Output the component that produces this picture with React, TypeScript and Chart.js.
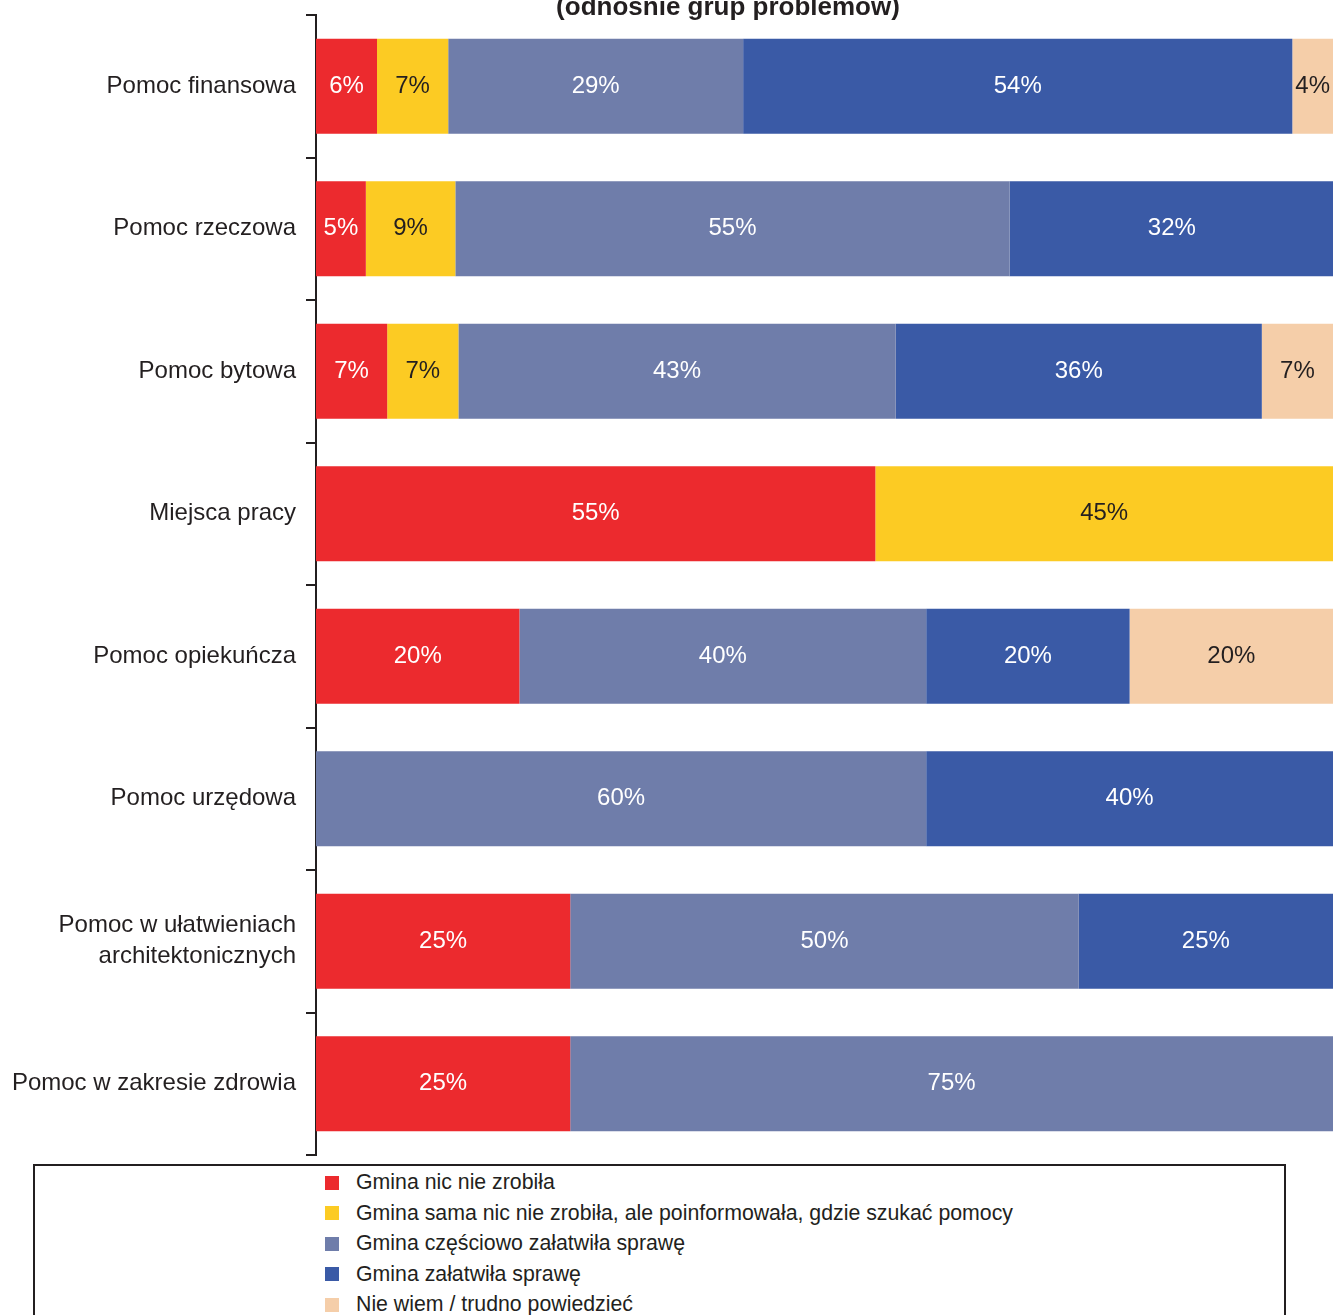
import React, { useEffect, useRef } from "react";
import { Chart, registerables } from "chart.js";

Chart.register(...registerables);

const titleText = "(odnośnie grup problemów)";

const categories: (string | string[])[] = [
  "Pomoc finansowa",
  "Pomoc rzeczowa",
  "Pomoc bytowa",
  "Miejsca pracy",
  "Pomoc opiekuńcza",
  "Pomoc urzędowa",
  ["Pomoc w ułatwieniach", "architektonicznych"],
  "Pomoc w zakresie zdrowia",
];

const seriesNames = [
  "Gmina nic nie zrobiła",
  "Gmina sama nic nie zrobiła, ale poinformowała, gdzie szukać pomocy",
  "Gmina częściowo załatwiła sprawę",
  "Gmina załatwiła sprawę",
  "Nie wiem / trudno powiedzieć",
];

const nicNieZrobila = [6, 4.9, 7, 55, 20, 0, 25, 25];
const poinformowala = [7, 8.8, 7, 45, 0, 0, 0, 0];
const czesciowo = [29, 54.5, 43, 0, 40, 60, 50, 75];
const zalatwila = [54, 31.9, 36, 0, 20, 40, 25, 0];
const nieWiem = [4, 0, 7, 0, 20, 0, 0, 0];

const seriesValues = [nicNieZrobila, poinformowala, czesciowo, zalatwila, nieWiem];
const seriesColors = ["#EC2A2E", "#FCCB23", "#6F7DAA", "#3A5AA6", "#F5CEA9"];
const labelColors = ["#ffffff", "#231f20", "#ffffff", "#ffffff", "#231f20"];

const FONT = "'Liberation Sans', Arial, Helvetica, sans-serif";
const INK = "#231f20";

const valueLabelsPlugin = {
  id: "valueLabels",
  afterDatasetsDraw(chart: any) {
    const ctx = chart.ctx;
    ctx.save();
    ctx.font = `24px ${FONT}`;
    ctx.textAlign = "center";
    ctx.textBaseline = "middle";
    chart.data.datasets.forEach((ds: any, di: number) => {
      const meta = chart.getDatasetMeta(di);
      meta.data.forEach((el: any, i: number) => {
        const v = ds.data[i];
        if (!v) return;
        const cx = (el.x + el.base) / 2;
        ctx.fillStyle = labelColors[di];
        ctx.fillText(`${Math.round(v)}%`, cx, el.y);
      });
    });
    ctx.restore();
  },
};

const titlePlugin = {
  id: "cutTitle",
  afterDraw(chart: any) {
    const ctx = chart.ctx;
    ctx.save();
    ctx.font = `bold 26px ${FONT}`;
    ctx.fillStyle = INK;
    ctx.textAlign = "center";
    ctx.textBaseline = "alphabetic";
    ctx.fillText(titleText, 728, 14.5);
    ctx.restore();
  },
};

export default function App() {
  const canvasRef = useRef<HTMLCanvasElement | null>(null);

  useEffect(() => {
    if (!canvasRef.current) return;
    const chart = new Chart(canvasRef.current, {
      type: "bar",
      data: {
        labels: categories,
        datasets: seriesNames.map((name, i) => ({
          label: name,
          data: seriesValues[i],
          backgroundColor: seriesColors[i],
          borderWidth: 0,
          barPercentage: 0.667,
          categoryPercentage: 1,
        })),
      },
      options: {
        indexAxis: "y",
        responsive: false,
        animation: false,
        devicePixelRatio: 1,
        layout: { padding: { top: 15, bottom: 5, left: 0, right: 1 } },
        plugins: {
          legend: { display: false },
          title: { display: false },
          tooltip: { enabled: false },
        },
        scales: {
          x: {
            stacked: true,
            min: 0,
            max: 100,
            display: false,
          },
          y: {
            stacked: true,
            z: 1,
            afterFit(scale: any) {
              scale.width = 316;
              scale.paddingTop = 0;
              scale.paddingBottom = 0;
            },
            border: { display: true, color: INK, width: 2 },
            grid: {
              offset: true,
              drawOnChartArea: false,
              drawTicks: true,
              tickLength: 10,
              color: INK,
              lineWidth: 2,
            },
            ticks: {
              padding: 10,
              color: INK,
              font: { family: FONT, size: 24, lineHeight: 1.3 },
            },
          },
        },
      },
      plugins: [valueLabelsPlugin, titlePlugin],
    } as any);
    return () => chart.destroy();
  }, []);

  return (
    <div
      style={{
        position: "absolute",
        left: 0,
        top: 0,
        width: 1334,
        height: 1315,
        overflow: "hidden",
        background: "#ffffff",
      }}
    >
      <canvas
        ref={canvasRef}
        width={1334}
        height={1160}
        style={{ position: "absolute", left: 0, top: 0, width: 1334, height: 1160 }}
      />
      <div
        style={{
          position: "absolute",
          left: 33,
          top: 1164,
          width: 1253,
          height: 200,
          border: `2px solid ${INK}`,
          boxSizing: "border-box",
        }}
      >
        {seriesNames.map((name, i) => (
          <div
            key={name}
            style={{
              position: "absolute",
              left: 290,
              top: 1.5 + i * 30.5,
              height: 30,
              display: "flex",
              alignItems: "center",
              whiteSpace: "nowrap",
              fontFamily: FONT,
              fontSize: 21.3,
              color: INK,
            }}
          >
            <span
              style={{
                display: "inline-block",
                width: 14,
                height: 14,
                background: seriesColors[i],
                marginRight: 17,
              }}
            />
            <span>{name}</span>
          </div>
        ))}
      </div>
    </div>
  );
}
